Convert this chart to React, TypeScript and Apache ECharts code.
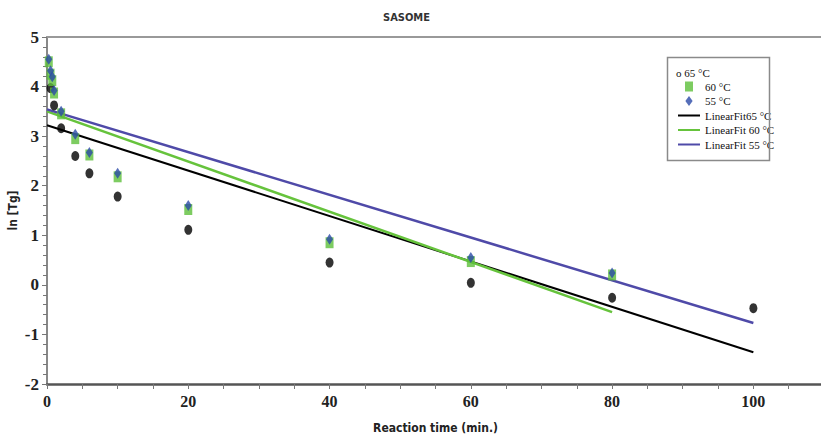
import React, { useEffect, useRef } from "react";
import * as echarts from "echarts";

const times65 = [0.5, 1, 2, 4, 6, 10, 20, 40, 60, 80, 100];
const values65 = [3.97, 3.62, 3.16, 2.6, 2.25, 1.78, 1.11, 0.45, 0.04, -0.26, -0.47];
const times60 = [0.25, 0.5, 0.75, 1, 2, 4, 6, 10, 20, 40, 60, 80];
const values60 = [4.5, 4.25, 4.12, 3.87, 3.45, 2.95, 2.62, 2.18, 1.52, 0.85, 0.47, 0.2];
const times55 = [0.25, 0.5, 0.75, 1, 2, 4, 6, 10, 20, 40, 60, 80];
const values55 = [4.55, 4.32, 4.2, 3.92, 3.5, 3.04, 2.67, 2.25, 1.6, 0.92, 0.55, 0.24];
const fit65X = [0, 100];
const fit65Y = [3.22, -1.36];
const fit60X = [0, 80];
const fit60Y = [3.5, -0.55];
const fit55X = [0, 100];
const fit55Y = [3.54, -0.77];

const seriesNames = ["65 °C", "60 °C", "55 °C", "LinearFit65 °C", "LinearFit 60 °C", "LinearFit 55 °C"];

const zip = (xs: number[], ys: number[]) => xs.map((x, i) => [x, ys[i]]);

const serifFont = "'Liberation Serif', 'DejaVu Serif', serif";
const condFont = "'DejaVu Sans Condensed', 'Liberation Sans Narrow', 'DejaVu Sans', sans-serif";

export default function App() {
  const ref = useRef<HTMLDivElement>(null);
  useEffect(() => {
    if (!ref.current) return;
    const chart = echarts.init(ref.current, null, { renderer: "svg" });
    chart.setOption({
      animation: false,
      backgroundColor: "#ffffff",
      title: {
        text: "SASOME",
        left: 378,
        top: 7,
        textStyle: { fontFamily: condFont, fontWeight: "bold", fontSize: 11, color: "#333" },
      },
      grid: { left: 47, top: 37, right: -3, bottom: 55, outerBoundsMode: "none", containLabel: false },
      legend: [
        {
          data: [{ name: seriesNames[0], icon: "none" }],
          left: 666,
          top: 61,
          itemWidth: 0,
          itemGap: 0,
          formatter: (n: string) => "o " + n,
          textStyle: { fontFamily: serifFont, fontSize: 11, color: "#111" },
          selectedMode: false,
        },
        {
          data: [
            { name: seriesNames[1], icon: "path://M0,0 L8,0 L8,10 L0,10 Z" },
            { name: seriesNames[2], icon: "path://M4,0 L8,5.5 L4,11 L0,5.5 Z" },
            { name: seriesNames[3], itemStyle: { opacity: 0 } },
            { name: seriesNames[4], itemStyle: { opacity: 0 } },
            { name: seriesNames[5], itemStyle: { opacity: 0 } },
          ],
          orient: "vertical",
          left: 672,
          top: 76,
          itemWidth: 22,
          itemHeight: 10,
          itemGap: 3.5,
          symbolKeepAspect: true,
          textStyle: { fontFamily: serifFont, fontSize: 11, color: "#111" },
          selectedMode: false,
        },
      ],
      graphic: [
        {
          type: "rect",
          left: 665,
          top: 55,
          shape: { width: 102, height: 103 },
          style: { fill: "none", stroke: "#8a8a8a", lineWidth: 1.5 },
          z: 10,
        },
      ],
      xAxis: [
        {
          type: "value",
          min: 0,
          max: 110,
          interval: 20,
          name: "Reaction time (min.)",
          nameLocation: "middle",
          nameGap: 38,
          nameMoveOverlap: false,
          nameTextStyle: { fontFamily: condFont, fontWeight: "bold", fontSize: 12, color: "#222" },
          axisLine: { onZero: false, lineStyle: { color: "#555", width: 2.5 } },
          axisTick: { show: true, inside: false, length: 5, lineStyle: { color: "#777", width: 1 } },
          minorTick: { show: true, splitNumber: 4, length: 5, lineStyle: { color: "#777", width: 1 } },
          axisLabel: {
            margin: 9,
            fontFamily: serifFont,
            fontWeight: "bold",
            fontSize: 16,
            color: "#222",
            formatter: (v: number) => (v > 100 ? "" : String(v)),
          },
          splitLine: { show: false },
        },
        {
          type: "value",
          position: "top",
          min: 0,
          max: 110,
          interval: 20,
          axisLine: { show: true, onZero: false, lineStyle: { color: "#999", width: 2 } },
          axisTick: { show: false },
          axisLabel: { show: false },
          splitLine: { show: false },
        },
      ],
      yAxis: {
        type: "value",
        min: -2,
        max: 5,
        interval: 1,
        name: "ln [Tg]",
        nameLocation: "middle",
        nameGap: 28,
        nameMoveOverlap: false,
        nameTextStyle: { fontFamily: condFont, fontWeight: "bold", fontSize: 12, color: "#222" },
        axisLine: { show: true, onZero: false, lineStyle: { color: "#888", width: 2 } },
        axisTick: { show: true, inside: false, length: 5, lineStyle: { color: "#777", width: 1 } },
        minorTick: { show: true, splitNumber: 5, length: 4, lineStyle: { color: "#777", width: 1 } },
        axisLabel: {
          margin: 8,
          fontFamily: serifFont,
          fontWeight: "bold",
          fontSize: 17,
          color: "#222",
        },
        splitLine: { show: false },
      },
      series: [
        {
          name: seriesNames[0],
          type: "scatter",
          data: zip(times65, values65),
          symbol: "circle",
          symbolSize: [8, 10],
          itemStyle: { color: "#000000" },
          z: 3,
        },
        {
          name: seriesNames[1],
          type: "scatter",
          data: zip(times60, values60),
          symbol: "rect",
          symbolSize: [8, 11],
          itemStyle: { color: "#5cbf3a" },
          z: 4,
        },
        {
          name: seriesNames[2],
          type: "scatter",
          data: zip(times55, values55),
          symbol: "diamond",
          symbolSize: [7, 11],
          itemStyle: { color: "#2a4aa8" },
          z: 5,
        },
        {
          name: seriesNames[3],
          type: "line",
          data: zip(fit65X, fit65Y),
          symbol: "none",
          lineStyle: { color: "#000000", width: 2 },
          itemStyle: { color: "#000000" },
          z: 2,
        },
        {
          name: seriesNames[4],
          type: "line",
          data: zip(fit60X, fit60Y),
          symbol: "none",
          lineStyle: { color: "#66c33c", width: 2.5 },
          itemStyle: { color: "#66c33c" },
          z: 2,
        },
        {
          name: seriesNames[5],
          type: "line",
          data: zip(fit55X, fit55Y),
          symbol: "none",
          lineStyle: { color: "#4f4aa8", width: 2.5 },
          itemStyle: { color: "#4f4aa8" },
          z: 2,
        },
      ],
    });
    return () => chart.dispose();
  }, []);
  return (
    <div
      ref={ref}
      style={{ position: "absolute", left: 0, top: 0, width: 821, height: 439, background: "#fff" }}
    />
  );
}
